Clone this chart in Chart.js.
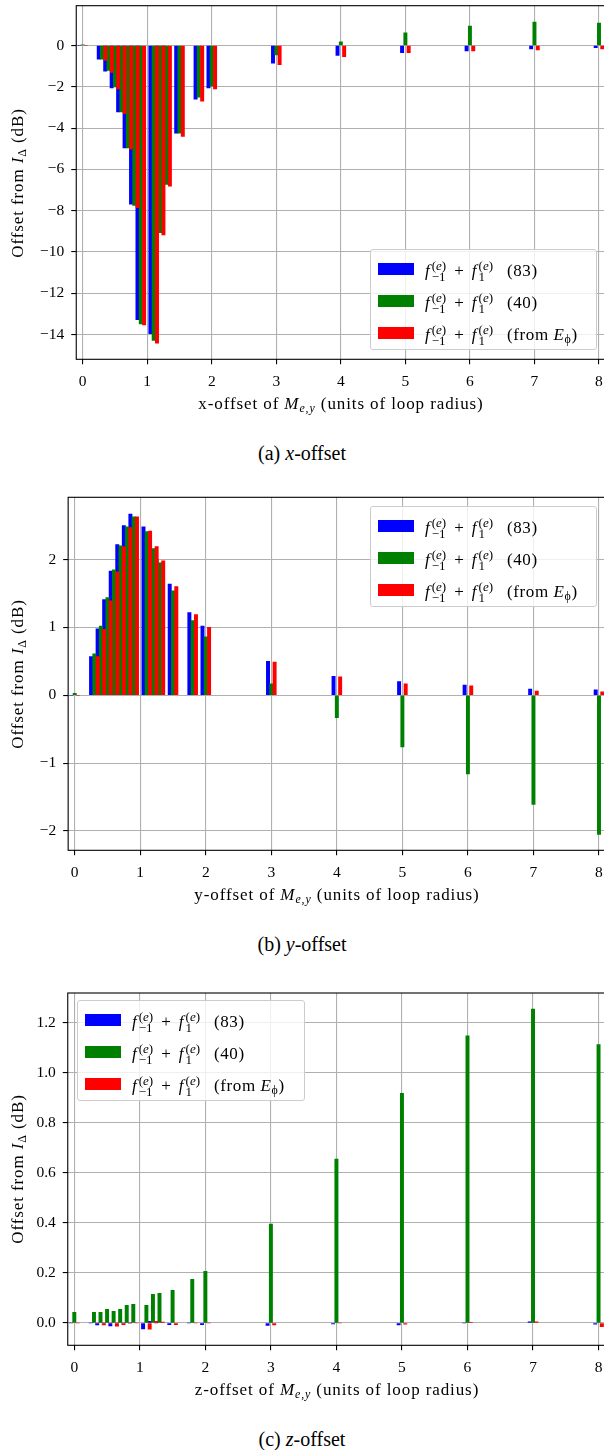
<!DOCTYPE html>
<html><head><meta charset="utf-8">
<script src="https://cdn.jsdelivr.net/npm/chart.js@4.4.1/dist/chart.umd.min.js"></script>
<style>
html,body{margin:0;padding:0;background:#fff;overflow:hidden;}
#wrap{position:relative;width:604px;height:1450px;overflow:hidden;background:#fff;}
canvas{position:absolute;left:0;}
.t{position:absolute;font-family:"Liberation Serif","DejaVu Serif",serif;color:#000;white-space:nowrap;line-height:1;}
.yt{transform:translate(-50%,-50%) rotate(-90deg);font-size:17px;letter-spacing:0.9px;}
.xt{transform:translate(-50%,-50%);font-size:17px;letter-spacing:0.9px;}
.cap{transform:translate(-50%,-50%);font-size:20px;}
.leg{position:absolute;background:rgba(255,255,255,0.8);border:1px solid #cccccc;border-radius:3px;box-sizing:border-box;}
.sw{position:absolute;width:36px;height:12px;}
.lt{position:absolute;font-family:"Liberation Serif","DejaVu Serif",serif;font-size:17px;white-space:nowrap;line-height:1;transform:translateY(-50%);}
.st{display:inline-flex;flex-direction:column;font-size:13px;line-height:11px;vertical-align:6px;margin-left:2px;}
.pl{margin:0 8px;}
.nm{margin-left:14px;letter-spacing:0.6px;}
sub{font-size:70%;vertical-align:-3px;line-height:0;}
</style>
</head><body>
<div id="wrap">
<canvas id="ca" width="620" height="395" style="top:0px"></canvas>
<canvas id="cb" width="620" height="395" style="top:490px"></canvas>
<canvas id="cc" width="620" height="395" style="top:985px"></canvas>
</div>
<script>
// ---------- data ----------
const xPos = [0, 0.3, 0.4, 0.5, 0.6, 0.7, 0.8, 0.9, 1.1, 1.2, 1.3, 1.5, 1.8, 2, 3, 4, 5, 6, 7, 8];
const xTicks = [0, 1, 2, 3, 4, 5, 6, 7, 8];

const aBlue  = [0, -0.66, -1.24, -2.05, -3.22, -4.96, -7.68, -13.28, -13.96, -8.95, -6.6, -4.25, -2.6, -2.05, -0.86, -0.48, -0.35, -0.26, -0.16, -0.10];
const aGreen = [0.04, -0.66, -1.21, -2.0, -3.22, -4.96, -7.74, -13.48, -14.28, -9.06, -6.73, -4.25, -2.5, -1.97, -0.45, 0.18, 0.61, 0.94, 1.14, 1.09];
const aRed   = [0, -0.72, -1.3, -2.1, -3.3, -5.02, -7.85, -13.53, -14.42, -9.17, -6.81, -4.4, -2.7, -2.1, -0.93, -0.54, -0.35, -0.26, -0.21, -0.16];
const aYTicks = [-14, -12, -10, -8, -6, -4, -2, 0];

const bBlue  = [0, 0.57, 0.98, 1.41, 1.83, 2.22, 2.5, 2.67, 2.48, 2.2, 2.0, 1.64, 1.22, 1.02, 0.5, 0.28, 0.2, 0.15, 0.09, 0.08];
const bGreen = [0.03, 0.61, 1.02, 1.44, 1.85, 2.2, 2.48, 2.63, 2.41, 2.16, 1.95, 1.54, 1.1, 0.86, 0.17, -0.33, -0.76, -1.16, -1.61, -2.05];
const bRed   = [0, 0.57, 0.97, 1.39, 1.82, 2.19, 2.47, 2.63, 2.42, 2.19, 1.98, 1.6, 1.19, 1.0, 0.49, 0.27, 0.17, 0.14, 0.06, 0.05];
const bYTicks = [-2, -1, 0, 1, 2];

const cBlue  = [0, 0, -0.008, 0, -0.012, 0, 0, 0, -0.024, 0.007, 0, -0.007, 0, -0.007, -0.01, -0.004, -0.008, 0, 0.005, -0.005];
const cGreen = [0.043, 0.043, 0.043, 0.055, 0.047, 0.055, 0.071, 0.075, 0.071, 0.115, 0.119, 0.131, 0.175, 0.207, 0.395, 0.655, 0.918, 1.148, 1.255, 1.113];
const cRed   = [0, 0, -0.008, 0, -0.013, -0.007, 0, 0, -0.025, 0.007, 0.004, -0.007, 0, 0, -0.008, 0, -0.005, 0.003, 0.005, -0.015];
const cYTicks = [0, 0.2, 0.4, 0.6, 0.8, 1.0, 1.2];

const seriesNames = ['(83)', '(40)', '(from <i>E</i><sub>ϕ</sub>)'];
const seriesColors = ['#0000ff', '#008000', '#ff0000'];

// ---------- helpers ----------
const FAM = '"Liberation Serif","DejaVu Serif",serif';
const minus = s => String(s).replace('-', '\u2212');

const spines = {
  id: 'spines',
  afterDraw(chart) {
    const a = chart.chartArea, ctx = chart.ctx;
    ctx.save(); ctx.strokeStyle = '#000'; ctx.lineWidth = 1.1;
    ctx.strokeRect(a.left, a.top, a.right - a.left, a.bottom - a.top);
    ctx.restore();
  }
};
const drawOrder = {
  id: 'drawOrder',
  beforeDatasetsDraw(chart) {
    const metas = chart.getSortedVisibleDatasetMetas();
    for (let i = 0; i < metas.length; i++) chart._drawDataset(metas[i]);
    return false;
  }
};

function makePanel(id, p) {
  const series = [p.blue, p.green, p.red];
  const datasets = series.map((vals, k) => ({
    data: xPos.map((x, i) => ({x: x, y: vals[i]})),
    backgroundColor: seriesColors[k],
    borderWidth: 0,
    barThickness: 3.3,
    grouped: true
  }));
  const grid = {color: '#b0b0b0', lineWidth: 1.1, offset: false, drawTicks: true, tickLength: 5, tickColor: '#000', tickWidth: 1.1};
  new Chart(document.getElementById(id), {
    type: 'bar',
    data: {datasets},
    plugins: [spines, drawOrder],
    options: {
      responsive: false, animation: false, events: [],
      devicePixelRatio: 1,
      layout: {padding: {left: 0, top: p.top, right: 620 - p.right, bottom: 0}},
      plugins: {legend: {display: false}, tooltip: {enabled: false}},
      scales: {
        x: {
          type: 'linear', min: p.xmin, max: 8.1, offset: false, z: 1,
          afterBuildTicks: s => { s.ticks = xTicks.map(v => ({value: v})); },
          afterFit: s => { s.height = 395 - p.bottom; s.paddingLeft = 0; s.paddingRight = 0; },
          grid: grid, border: {display: false},
          ticks: {font: {family: FAM, size: 15.5}, color: '#000', padding: 8, maxRotation: 0, autoSkip: false,
                  callback: v => minus(v)}
        },
        y: {
          type: 'linear', min: p.ymin, max: p.ymax, z: 1,
          afterBuildTicks: s => { s.ticks = p.yticks.map(v => ({value: v})); },
          afterFit: s => { s.width = p.left; s.paddingTop = 0; s.paddingBottom = 0; },
          grid: grid, border: {display: false},
          ticks: {font: {family: FAM, size: 15.5}, color: '#000', padding: 7, autoSkip: false,
                  callback: v => minus(p.fmt(v))}
        }
      }
    }
  });
}

makePanel('ca', {blue: aBlue, green: aGreen, red: aRed, yticks: aYTicks, ymin: -15.2, ymax: 1.93,
  xmin: -0.1, left: 76.25, right: 605.45, top: 5.7, bottom: 359.3, fmt: v => String(v)});
makePanel('cb', {blue: bBlue, green: bGreen, red: bRed, yticks: bYTicks, ymin: -2.285, ymax: 2.917,
  xmin: -0.1, left: 68.15, right: 605.55, top: 7.3, bottom: 360.3, fmt: v => String(v)});
makePanel('cc', {blue: cBlue, green: cGreen, red: cRed, yticks: cYTicks, ymin: -0.089, ymax: 1.319,
  xmin: -0.1, left: 67.75, right: 605.1, top: 8, bottom: 360.3, fmt: v => v.toFixed(1)});

// ---------- text overlays ----------
const wrap = document.getElementById('wrap');
function addText(cls, x, y, html) {
  const d = document.createElement('div');
  d.className = 't ' + cls; d.style.left = x + 'px'; d.style.top = y + 'px'; d.innerHTML = html;
  wrap.appendChild(d);
}
const yTitle = 'Offset from <i>I</i><sub>Δ</sub> (dB)';
const xTitle = a => a + '-offset of <i>M</i><sub><i>e</i>,<i>y</i></sub> (units of loop radius)';
addText('yt', 17, 182.5, yTitle);
addText('yt', 17, 673.8, yTitle);
addText('yt', 17, 1169, yTitle);
addText('xt', 341, 403, xTitle('x'));
addText('xt', 337, 894, xTitle('y'));
addText('xt', 337, 1389, xTitle('z'));
addText('cap', 302, 453, '(a) <i>x</i>-offset');
addText('cap', 302, 944, '(b) <i>y</i>-offset');
addText('cap', 302, 1439, '(c) <i>z</i>-offset');

const fpart = sub => '<i>f</i><span class="st"><span>(<i>e</i>)</span><span>' + sub + '</span></span>';
function addLegend(left, top, width, height) {
  const box = document.createElement('div');
  box.className = 'leg';
  box.style.left = left + 'px'; box.style.top = top + 'px';
  box.style.width = width + 'px'; box.style.height = height + 'px';
  seriesNames.forEach((nm, k) => {
    const cy = 19 + 32 * k;
    const sw = document.createElement('div');
    sw.className = 'sw'; sw.style.background = seriesColors[k];
    sw.style.left = '6.5px'; sw.style.top = (cy - 6) + 'px';
    box.appendChild(sw);
    const tx = document.createElement('div');
    tx.className = 'lt'; tx.style.left = '54px'; tx.style.top = (cy + 2) + 'px';
    tx.innerHTML = fpart('\u22121') + '<span class="pl">+</span>' + fpart('1') + '<span class="nm">' + nm + '</span>';
    box.appendChild(tx);
  });
  wrap.appendChild(box);
}
addLegend(370, 249.3, 227.3, 100.7);
addLegend(370, 506, 226.7, 101.3);
addLegend(77, 1000, 228, 101);
</script>
</body></html>
